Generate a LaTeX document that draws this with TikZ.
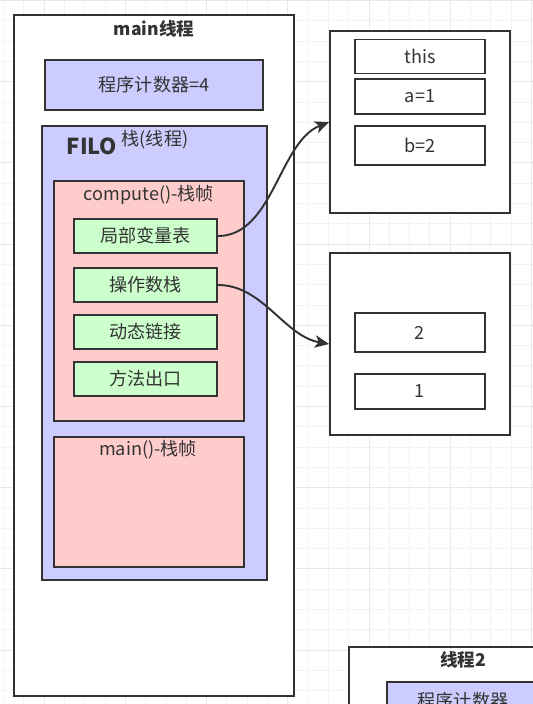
\documentclass[tikz,border=0pt]{standalone}
\usepackage{fontspec}
\setmainfont{Noto Sans CJK SC}
\usetikzlibrary{arrows.meta}
\definecolor{lineclr}{HTML}{333333}
\definecolor{bluefill}{HTML}{CCCCFF}
\definecolor{redfill}{HTML}{FFCCCC}
\definecolor{greenfill}{HTML}{CCFFCC}
\definecolor{gridminor}{HTML}{F3F3F3}
\definecolor{gridmajor}{HTML}{E8E8E8}
\newcommand{\txt}{\fontsize{10.3}{12}\selectfont}

\begin{document}
\begin{tikzpicture}[x=0.02cm,y=-0.02cm,
  box/.style={draw=lineclr,line width=1.1pt,inner sep=0pt,text=lineclr,font=\txt},
  threadbox/.style={box,fill=white,minimum width=5.6cm},
  bluebox/.style={box,fill=bluefill},
  redbox/.style={box,fill=redfill,minimum width=3.8cm},
  greenbox/.style={box,fill=greenfill,minimum width=2.86cm,minimum height=0.68cm},
  heapbox/.style={box,fill=white,minimum width=3.6cm,minimum height=3.63cm},
  cellbox/.style={box,fill=white,minimum width=2.6cm,minimum height=0.7cm},
  label/.style={text=lineclr,font=\txt,inner sep=0pt},
  title/.style={text=lineclr,font=\fontsize{10}{12}\selectfont\bfseries,inner sep=0pt},
  link/.style={draw=lineclr,line width=1.1pt,-{Stealth[length=8pt,width=7pt,inset=2pt]}}]
\useasboundingbox (0,0) rectangle (533,704);
\clip (0,0) rectangle (533,704);
\fill[white] (0,0) rectangle (533,704);
\foreach \i in {0,...,26} \draw[gridminor] (3.5+20.3*\i,0) -- (3.5+20.3*\i,704);
\foreach \i in {0,...,34} \draw[gridminor] (0,0.4+20.3*\i) -- (533,0.4+20.3*\i);
\foreach \i in {0,...,6} \draw[gridmajor] (44.1+81.2*\i,0) -- (44.1+81.2*\i,704);
\foreach \i in {0,...,8} \draw[gridmajor] (0,0.4+81.2*\i) -- (533,0.4+81.2*\i);

\node [threadbox,minimum height=13.62cm] (mainthread) at (154,355.5) {};
\node [title] (maintitle) at (154,29) {main线程};
\node [bluebox,minimum width=4.36cm,minimum height=1cm] (pc) at (154,85) {程序计数器=4};
\node [bluebox,minimum width=4.5cm,minimum height=9.08cm] (stack) at (154.5,353) {};
\node [text=lineclr,font=\fontsize{12.5}{14}\selectfont\bfseries,inner sep=0pt] (filo) at (92,146) {FILO};
\node [label] (stacklabel) at (155,140) {栈(线程)};

\node [redbox,minimum height=4.8cm] (compute) at (149,301) {};
\node [label] (computelabel) at (149,195) {compute()-栈帧};
\node [greenbox] (locals) at (145.5,236) {局部变量表};
\node [greenbox] (opstack) at (145.5,285) {操作数栈};
\node [greenbox] (dynlink) at (145.5,332) {动态链接};
\node [greenbox] (retaddr) at (145.5,379) {方法出口};

\node [redbox,minimum height=2.6cm] (mainframe) at (149,502) {};
\node [label] (mainlabel) at (148,450) {main()-栈帧};

\node [heapbox] (heap1) at (420,122) {};
\node [cellbox,minimum height=0.68cm] (this) at (420,56.5) {this};
\node [cellbox] (a) at (420,96.5) {a=1};
\node [cellbox,minimum height=0.78cm] (b) at (420,145.5) {b=2};
\node [heapbox] (heap2) at (420,344) {};
\node [cellbox,minimum height=0.78cm] (two) at (420,332.5) {2};
\node [cellbox] (one) at (420,391.5) {1};

\draw [link] (locals.east) .. controls +(55,0) and +(-50,20) .. (heap1.west);
\draw [link] (opstack.east) .. controls +(45,0) and +(-45,-8) .. (heap2.west);

\node [threadbox,minimum width=4.56cm,minimum height=2.26cm] (thread2) at (463,703.5) {};
\node [title] (thread2title) at (463,660) {线程2};
\node [bluebox,minimum width=3.04cm,minimum height=0.76cm] (pc2) at (463,701) {程序计数器};
\end{tikzpicture}
\end{document}
